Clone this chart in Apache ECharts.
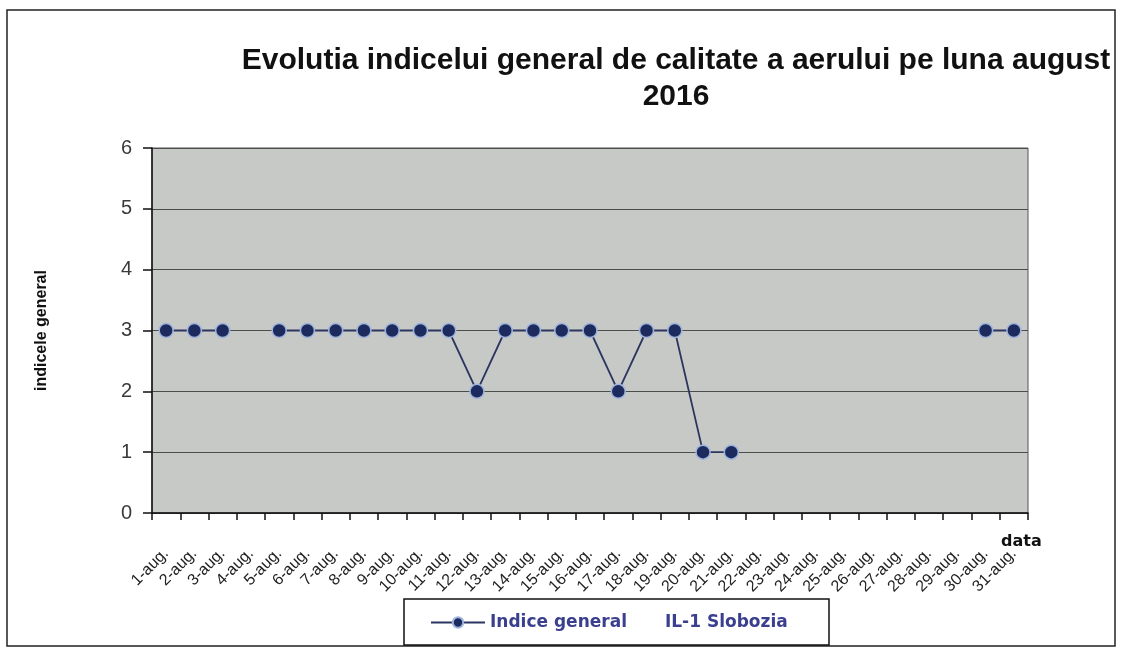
<!DOCTYPE html>
<html>
<head>
<meta charset="utf-8">
<script src="https://cdn.jsdelivr.net/npm/echarts@6/dist/echarts.min.js"></script>
<style>
  html, body { margin: 0; padding: 0; background: #fff; }
  #main { width: 1123px; height: 654px; }
</style>
</head>
<body>
<div id="main"></div>
<script>
// zilele lunii
const days = [];
for (let d = 1; d <= 31; d++) days.push(d + '-aug.');
// indicele general pe zile (null = lipsa date)
const indice = [3, 3, 3, null, 3, 3, 3, 3, 3, 3, 3, 2, 3, 3, 3, 3, 2, 3, 3, 1, 1,
  null, null, null, null, null, null, null, null, 3, 3];
const yTicks = [0, 1, 2, 3, 4, 5, 6];

const chart = echarts.init(document.getElementById('main'));
const option = {
  backgroundColor: '#ffffff',
  animation: false,
  title: {
    text: 'Evolutia indicelui general de calitate a aerului pe luna august\n2016',
    left: 671,
    top: 38,
    textAlign: 'center',
    textStyle: {
      fontFamily: 'Liberation Sans, Arial',
      fontSize: 30,
      fontWeight: 'bold',
      color: '#111',
      lineHeight: 36
    }
  },
  legend: {
    left: 430,
    top: 614,
    padding: 0,
    itemWidth: 54,
    itemHeight: 13,
    formatter: name => '{a|' + name + '}{gap|}{a|IL-1 Slobozia}',
    textStyle: {
      rich: {
        a: { fontFamily: 'DejaVu Sans', fontSize: 17, fontWeight: 'bold', color: '#3a3f8e' },
        gap: { width: 38 }
      }
    }
  },
  grid: {
    left: 152,
    right: 95,
    top: 148,
    bottom: 141,
    show: true,
    backgroundColor: '#c7c9c7',
    borderColor: '#555',
    borderWidth: 1
  },
  xAxis: {
    type: 'category',
    data: days,
    boundaryGap: true,
    axisLine: { lineStyle: { color: '#111', width: 1.5 } },
    axisTick: { show: true, inside: false, length: 7, lineStyle: { color: '#111', width: 1.5 } },
    axisLabel: {
      interval: 0,
      rotate: 45,
      margin: 38,
      fontFamily: 'Liberation Sans, Arial',
      fontSize: 16,
      color: '#222'
    },
    splitLine: { show: false }
  },
  yAxis: {
    type: 'value',
    min: 0,
    max: 6,
    interval: 1,
    name: 'indicele general',
    nameLocation: 'middle',
    nameGap: 102,
    nameRotate: 90,
    nameTextStyle: {
      fontFamily: 'Liberation Sans, Arial',
      fontSize: 16,
      fontWeight: 'bold',
      color: '#111'
    },
    axisLine: { show: true, lineStyle: { color: '#111', width: 1.5 } },
    axisTick: { show: true, inside: false, length: 9, lineStyle: { color: '#111', width: 1.5 } },
    axisLabel: {
      margin: 20,
      fontFamily: 'Liberation Sans, Arial',
      fontSize: 20,
      color: '#3a3a3a',
      formatter: v => yTicks.includes(v) ? String(v) : ''
    },
    splitLine: { show: true, lineStyle: { color: '#4a4d4a', width: 1.2 } }
  },
  series: [{
    name: 'Indice general',
    type: 'line',
    data: indice,
    connectNulls: false,
    symbol: 'circle',
    symbolSize: 14,
    showSymbol: true,
    lineStyle: { color: '#2c3560', width: 1.8 },
    itemStyle: {
      color: '#1d2a5e',
      borderColor: '#9fb4dc',
      borderWidth: 1.5
    }
  }],
  graphic: [{
    type: 'rect',
    shape: { x: 7, y: 10, width: 1108, height: 636 },
    style: { fill: null, stroke: '#222', lineWidth: 1.5 },
    silent: true,
    z: -10
  }, {
    type: 'rect',
    shape: { x: 404, y: 599, width: 425, height: 46 },
    style: { fill: '#fff', stroke: '#111', lineWidth: 1.5 },
    silent: true,
    z: -5
  }, {
    // titlul axei X
    type: 'text',
    left: 1001,
    top: 534,
    style: {
      text: 'data',
      font: 'bold 16px "DejaVu Sans"',
      fill: '#111'
    }
  }]
};
chart.setOption(option);
</script>
</body>
</html>
